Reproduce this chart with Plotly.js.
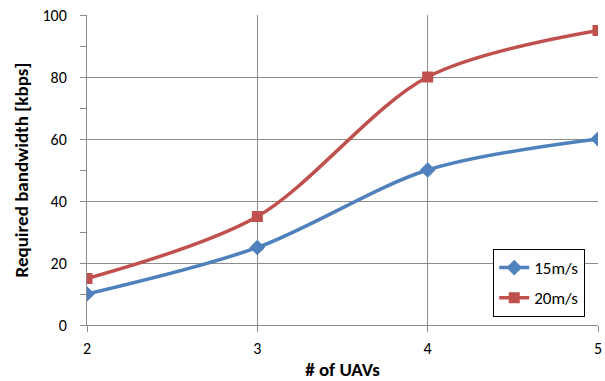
<!DOCTYPE html>
<html><head><meta charset="utf-8">
<script src="https://cdn.plot.ly/plotly-3.0.1.min.js"></script>
<style>html,body{margin:0;padding:0;background:#fff}</style>
</head><body>
<div id="chart" style="width:605px;height:381px"></div>
<script>
const uavs = [2, 3, 4, 5];
const bw15 = [10, 25, 50, 60];
const bw20 = [15, 35, 80, 95];
const seriesNames = ['15m/s', '20m/s'];
const xTicks = [2, 3, 4, 5];
const yTicks = [0, 20, 40, 60, 80, 100];

const font = 'Carlito, Calibri, "Liberation Sans", Arial, sans-serif';
const traces = [
  {x: uavs, y: bw15, name: seriesNames[0], legendgroup: 'a', mode: 'lines+markers', type: 'scatter',
   line: {color: '#4F81BD', width: 3.5, shape: 'spline', smoothing: 0.9},
   marker: {symbol: 'diamond', size: 12, color: '#4F81BD'}},
  {x: uavs, y: bw20, name: seriesNames[1], legendgroup: 'b', mode: 'lines+markers', type: 'scatter',
   line: {color: '#C0504D', width: 3.5, shape: 'spline', smoothing: 0.9},
   marker: {symbol: 'square', size: 11, color: '#C0504D'}}
];
const layout = {
  width: 605, height: 381,
  margin: {l: 87, r: 7, t: 15, b: 56},
  paper_bgcolor: '#fff', plot_bgcolor: '#fff',
  font: {family: font, size: 17, color: '#000'},
  showlegend: true,
  legend: {x: 0.795, y: 0.245, xanchor: 'left', yanchor: 'top',
           bordercolor: '#000', borderwidth: 1, bgcolor: '#fff',
           traceorder: 'grouped', tracegroupgap: 5,
           font: {family: font, size: 17, color: '#000'}},
  xaxis: {range: [2, 5], tickvals: xTicks, ticktext: xTicks.map(String),
          showgrid: true, gridcolor: '#8c8c8c', gridwidth: 1,
          showline: true, linecolor: '#8c8c8c', linewidth: 1,
          ticks: 'outside', ticklen: 6, tickcolor: '#8c8c8c',
          ticklabelstandoff: 3,
          zeroline: false, tickfont: {size: 16},
          title: {text: '<b># of UAVs</b>', font: {size: 19}, standoff: 8}},
  yaxis: {range: [0, 100], tickvals: yTicks, ticktext: yTicks.map(String),
          showgrid: true, gridcolor: '#8c8c8c', gridwidth: 1,
          showline: true, linecolor: '#8c8c8c', linewidth: 1,
          ticks: 'outside', ticklen: 6, tickcolor: '#8c8c8c',
          ticklabelstandoff: 10,
          minor: {dtick: 10, ticks: 'outside', ticklen: 6, tickcolor: '#8c8c8c', showgrid: false},
          zeroline: false, tickfont: {size: 16},
          title: {text: '<b>Required bandwidth [kbps]</b>', font: {size: 19}, standoff: 8}}
};
Plotly.newPlot('chart', traces, layout, {displayModeBar: false, staticPlot: true});
</script>
</body></html>
